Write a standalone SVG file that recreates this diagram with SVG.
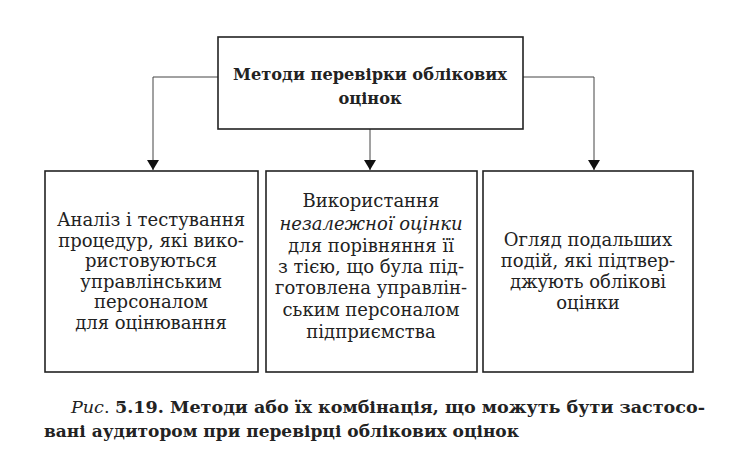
<svg xmlns="http://www.w3.org/2000/svg" width="737" height="461" viewBox="0 0 737 461">
<style>
.box{fill:#fff;stroke:#222;stroke-width:1.6}
.t{font-family:"DejaVu Serif","Liberation Serif",serif;font-size:18px;fill:#222;text-anchor:middle}
.b{font-weight:bold;font-size:16.2px}
.i{font-style:italic}
.c{stroke:#444;stroke-width:1;fill:none}
.cap{font-family:"DejaVu Serif","Liberation Serif",serif;font-size:16px;fill:#222}
</style>
<defs>
<marker id="ah" viewBox="0 0 10 14" refX="10" refY="7" markerWidth="10" markerHeight="14" markerUnits="userSpaceOnUse" orient="auto">
<path d="M0,1 L10,7 L0,13 Z" fill="#111"/>
</marker>
</defs>
<rect width="737" height="461" fill="#fff"/>
<g id="connectors">
<path class="c" d="M218,77 H153 V170" marker-end="url(#ah)"/>
<path class="c" d="M523,77 H594 V170" marker-end="url(#ah)"/>
<path class="c" d="M370,129 V170" marker-end="url(#ah)"/>
</g>
<g id="root">
<rect class="box" x="218" y="37" width="305" height="92"/>
<text class="t b" x="370" y="80">Методи перевірки облікових</text>
<text class="t b" x="370" y="104">оцінок</text>
</g>
<g id="n1">
<rect class="box" x="45" y="171" width="213" height="201"/>
<text class="t" x="151" y="226">Аналіз і тестування</text>
<text class="t" x="151" y="247">процедур, які вико-</text>
<text class="t" x="151" y="267">ристовуються</text>
<text class="t" x="151" y="288">управлінським</text>
<text class="t" x="151" y="308">персоналом</text>
<text class="t" x="151" y="329">для оцінювання</text>
</g>
<g id="n2">
<rect class="box" x="266" y="171" width="211" height="201"/>
<text class="t" x="371" y="207">Використання</text>
<text class="t i" x="371" y="230">незалежної оцінки</text>
<text class="t" x="371" y="252">для порівняння її</text>
<text class="t" x="371" y="273">з тією, що була під-</text>
<text class="t" x="371" y="294">готовлена управлін-</text>
<text class="t" x="371" y="316">ським персоналом</text>
<text class="t" x="371" y="338">підприємства</text>
</g>
<g id="n3">
<rect class="box" x="483" y="171" width="210" height="201"/>
<text class="t" x="588" y="246">Огляд подальших</text>
<text class="t" x="588" y="267">подій, які підтвер-</text>
<text class="t" x="588" y="288">джують облікові</text>
<text class="t" x="588" y="309">оцінки</text>
</g>
<g id="caption">
<text class="cap" x="71" y="413" textLength="634" lengthAdjust="spacingAndGlyphs"><tspan font-style="italic">Рис</tspan>. <tspan font-weight="bold">5.19. Методи або їх комбінація, що можуть бути застосо-</tspan></text>
<text class="cap" font-weight="bold" x="44" y="437" textLength="475" lengthAdjust="spacingAndGlyphs">вані аудитором при перевірці облікових оцінок</text>
</g>
</svg>
